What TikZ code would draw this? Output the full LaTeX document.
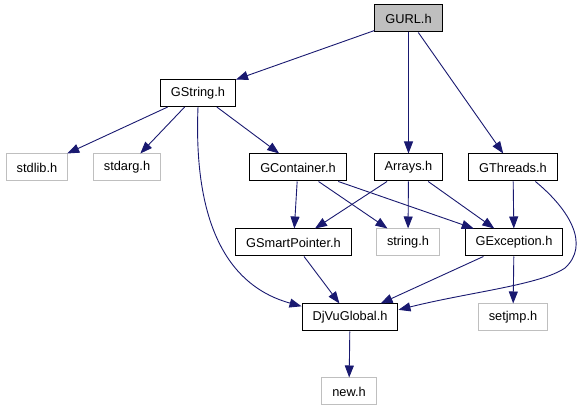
\documentclass[tikz,border=0pt]{standalone}
\usepackage{fontspec}
\setmainfont{Liberation Sans}
\usetikzlibrary{arrows.meta}
\definecolor{edgeblue}{RGB}{25,25,112}
\definecolor{greyline}{RGB}{191,191,191}

\begin{document}
\begin{tikzpicture}[x=1pt,y=-1pt,>={Triangle[length=12pt,width=9pt]},
  hfile/.style={draw=black,line width=1pt,inner xsep=10.5pt,inner ysep=0pt,
    minimum height=27pt,font=\fontsize{12.8}{14}\selectfont},
  sysfile/.style={hfile,draw=greyline},
  inc/.style={->,draw=edgeblue,line width=0.9pt}]
\useasboundingbox (0,0) rectangle (581,411);
% headers
\node[hfile,fill=greyline] (gurl) at (408.5,18.5) {GURL.h};
\node[hfile] (gstring) at (198,93) {GString.h};
\node[sysfile] (stdlib) at (37,167.5) {stdlib.h};
\node[sysfile] (stdarg) at (127,167.5) {stdarg.h};
\node[hfile] (gcontainer) at (298,167.5) {GContainer.h};
\node[hfile] (arrays) at (408.5,167.5) {Arrays.h};
\node[hfile] (gthreads) at (513,167.5) {GThreads.h};
\node[hfile] (gsmart) at (293.5,242.5) {GSmartPointer.h};
\node[sysfile] (string) at (408,242.5) {string.h};
\node[hfile] (gexcept) at (514,242.5) {GException.h};
\node[hfile] (djvu) at (350,317.5) {DjVuGlobal.h};
\node[sysfile] (setjmp) at (513,317.5) {setjmp.h};
\node[sysfile] (new) at (349,391.5) {new.h};
% includes
\draw[inc] (gurl) -- (gstring);
\draw[inc] (gurl) -- (arrays);
\draw[inc] (gurl) -- (gthreads);
\draw[inc] (gstring) -- (stdlib);
\draw[inc] (gstring) -- (stdarg);
\draw[inc] (gstring) -- (gcontainer);
\draw[inc] (gstring.south) .. controls (192,255) and (250,292) .. (djvu.167);
\draw[inc] (gcontainer) -- (gsmart);
\draw[inc] (gcontainer) -- (string);
\draw[inc] (gcontainer) -- (gexcept);
\draw[inc] (arrays) -- (gsmart);
\draw[inc] (arrays) -- (string);
\draw[inc] (arrays) -- (gexcept);
\draw[inc] (gthreads) -- (gexcept);
\draw[inc] (gthreads.-32) .. controls (570,210) and (590,245) .. (565,268)
  .. controls (540,285) and (470,292) .. (djvu.9);
\draw[inc] (gsmart) -- (djvu);
\draw[inc] (gexcept) -- (djvu);
\draw[inc] (gexcept) -- (setjmp);
\draw[inc] (djvu) -- (new);
\end{tikzpicture}
\end{document}
